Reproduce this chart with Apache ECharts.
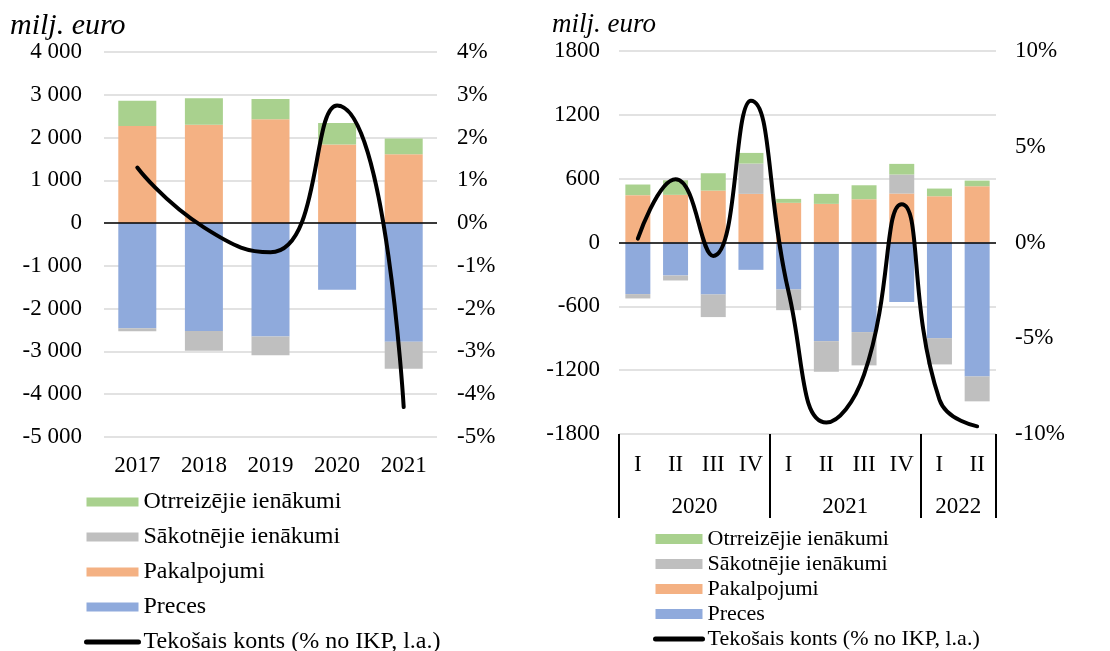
<!DOCTYPE html>
<html><head><meta charset="utf-8">
<script src="https://cdn.jsdelivr.net/npm/echarts@6/dist/echarts.min.js"></script>
<style>html,body{margin:0;padding:0;background:#fff}#c{width:1110px;height:651px}</style>
</head><body><div id="c"></div>
<script>
// ---- Left chart (annual) ----
const yearsA   = ['2017','2018','2019','2020','2021'];
const precesA  = [-2460,-2520,-2650,-1560,-2775];
const pakalpA  = [2270, 2300, 2430, 1840, 1610];
const sakotA   = [-65, -465, -440, 0, -630];
const otrA     = [590, 620, 470, 500, 370];
const kontsA   = [1.3, -0.1, -0.68, 2.75, -4.3];

// ---- Right chart (quarterly) ----
const quartersB = ['I','II','III','IV','I','II','III','IV','I','II'];
const yearsB    = ['2020','2021','2022'];
const yearSpansB = [4, 4, 2];
const precesB  = [-485,-310,-488,-257,-441,-927,-842,-560,-899,-1259];
const pakalpB  = [445, 448, 488, 457, 373, 363, 407, 460, 435, 529];
const sakotB   = [-41, -47, -213, 285, -195, -288, -313, 179, -247, -234];
const otrB     = [100, 137, 163, 100, 37, 94, 131, 100, 72, 53];
const kontsB   = [0.2, 3.3, -0.7, 7.4, -2.6, -9.4, -6.9, 2.0, -8.2, -9.6];

const names = {
  otr: 'Otrreizējie ienākumi',
  sak: 'Sākotnējie ienākumi',
  pak: 'Pakalpojumi',
  pre: 'Preces',
  kon: 'Tekošais konts (% no IKP, l.a.)'
};
const colors = { otr:'#A9D18E', sak:'#BFBFBF', pak:'#F4B183', pre:'#8FAADC' };
const FONT = 'Liberation Serif';

// half-band slots for the year-group axis
const nQ = quartersB.length;
const yearSlots = new Array(nQ * 2 + 1).fill('');
const yearTickIdx = [nQ * 2];
let s = 0;
yearsB.forEach((y, i) => { yearSlots[2 * s + yearSpansB[i]] = y; yearTickIdx.push(2 * s); s += yearSpansB[i]; });
const slotCats = yearSlots.map((_, i) => 's' + i);

function thou(v){
  const a = Math.abs(v).toString().replace(/\B(?=(\d{3})+(?!\d))/g, ' ');
  return (v < 0 ? '-' : '') + a;
}

const txt = { fontFamily: FONT, fontSize: 23, color: '#000' };
const gridLine = { show: true, lineStyle: { color: '#D9D9D9', width: 1.5 } };
const zeroLine = {
  silent: true, symbol: 'none', label: { show: false },
  lineStyle: { color: '#000', width: 1.5, type: 'solid' },
  data: [{ yAxis: 0 }]
};

function bars(gi, pre, pak, sak, otr, bw){
  const xi = gi === 0 ? 0 : 1, yi = gi * 2;
  return [
    { name: names.pre, type: 'bar', stack: 's' + gi, xAxisIndex: xi, yAxisIndex: yi, data: pre, barWidth: bw, itemStyle: { color: colors.pre }, markLine: zeroLine },
    { name: names.pak, type: 'bar', stack: 's' + gi, xAxisIndex: xi, yAxisIndex: yi, data: pak, barWidth: bw, itemStyle: { color: colors.pak } },
    { name: names.sak, type: 'bar', stack: 's' + gi, xAxisIndex: xi, yAxisIndex: yi, data: sak, barWidth: bw, itemStyle: { color: colors.sak } },
    { name: names.otr, type: 'bar', stack: 's' + gi, xAxisIndex: xi, yAxisIndex: yi, data: otr, barWidth: bw, itemStyle: { color: colors.otr } }
  ];
}

const legendData = [
  { name: names.otr, icon: 'rect' },
  { name: names.sak, icon: 'rect' },
  { name: names.pak, icon: 'rect' },
  { name: names.pre, icon: 'rect' },
  { name: names.kon, itemStyle: { color: 'rgba(0,0,0,0)', borderColor: 'rgba(0,0,0,0)', borderWidth: 0, opacity: 0 }, lineStyle: { color: '#000', width: 5, cap: 'round' } }
];

const titleStyle = (fs) => ({ fontFamily: FONT, fontSize: fs, fontStyle: 'italic', fontWeight: 'normal', color: '#000' });

const option = {
  animation: false,
  backgroundColor: '#fff',
  title: [
    { text: 'milj. euro', left: 10, top: 11, padding: 0, textStyle: titleStyle(30) },
    { text: 'milj. euro', left: 552, top: 11, padding: 0, textStyle: titleStyle(27) }
  ],
  grid: [
    { left: 104, top: 52, width: 333, height: 385 },
    { left: 619, top: 51, width: 377, height: 383 }
  ],
  xAxis: [
    { type: 'category', gridIndex: 0, data: yearsA, position: 'bottom',
      axisLine: { show: false, onZero: false }, axisTick: { show: false },
      axisLabel: Object.assign({ margin: 17, interval: 0 }, txt) },
    { type: 'category', gridIndex: 1, data: quartersB, position: 'bottom',
      axisLine: { show: false, onZero: false }, axisTick: { show: false },
      axisLabel: Object.assign({ margin: 19, interval: 0 }, txt) },
    { type: 'category', gridIndex: 1, data: slotCats, position: 'bottom', boundaryGap: false,
      axisLine: { show: false, onZero: false },
      axisTick: { show: true, length: 84, interval: (i) => yearTickIdx.indexOf(i) >= 0, lineStyle: { color: '#000', width: 2 } },
      axisLabel: Object.assign({ margin: 61, interval: 0, formatter: (v, i) => yearSlots[i] }, txt) }
  ],
  yAxis: [
    { type: 'value', gridIndex: 0, min: -5000, max: 4000, interval: 1000,
      axisLine: { show: false }, axisTick: { show: false }, splitLine: gridLine,
      axisLabel: Object.assign({ margin: 22, formatter: thou }, txt) },
    { type: 'value', gridIndex: 0, min: -5, max: 4, interval: 1, position: 'right',
      axisLine: { show: false }, axisTick: { show: false }, splitLine: { show: false },
      axisLabel: Object.assign({ margin: 20, formatter: (v) => v + '%' }, txt) },
    { type: 'value', gridIndex: 1, min: -1800, max: 1800, interval: 600,
      axisLine: { show: false }, axisTick: { show: false }, splitLine: gridLine,
      axisLabel: Object.assign({ margin: 19, formatter: (v) => String(v) }, txt) },
    { type: 'value', gridIndex: 1, min: -10, max: 10, interval: 5, position: 'right',
      axisLine: { show: false }, axisTick: { show: false }, splitLine: { show: false },
      axisLabel: Object.assign({ margin: 19, formatter: (v) => v + '%' }, txt) }
  ],
  legend: [
    { orient: 'vertical', left: 84, top: 490, height: 200, padding: 0, itemWidth: 52, itemHeight: 9, itemGap: 11,
      data: legendData, selectedMode: false,
      textStyle: { fontFamily: FONT, fontSize: 24, lineHeight: 24, color: '#000' } },
    { orient: 'vertical', left: 653, top: 528, height: 200, padding: 0, itemWidth: 47, itemHeight: 10, itemGap: 3,
      data: legendData, selectedMode: false,
      textStyle: { fontFamily: FONT, fontSize: 22, lineHeight: 22, color: '#000' } }
  ],
  series: [
    ...bars(0, precesA, pakalpA, sakotA, otrA, 38),
    { name: names.kon, type: 'line', xAxisIndex: 0, yAxisIndex: 1, data: kontsA, smooth: 0.55,
      symbol: 'none', z: 10, lineStyle: { color: '#000', width: 4, cap: 'round' }, itemStyle: { color: '#000' } },
    ...bars(1, precesB, pakalpB, sakotB, otrB, 25),
    { name: names.kon, type: 'line', xAxisIndex: 1, yAxisIndex: 3, data: kontsB, smooth: 0.5,
      symbol: 'none', z: 10, lineStyle: { color: '#000', width: 4, cap: 'round' }, itemStyle: { color: '#000' } }
  ]
};

const chart = echarts.init(document.getElementById('c'));
chart.setOption(option);
</script>
</body></html>
